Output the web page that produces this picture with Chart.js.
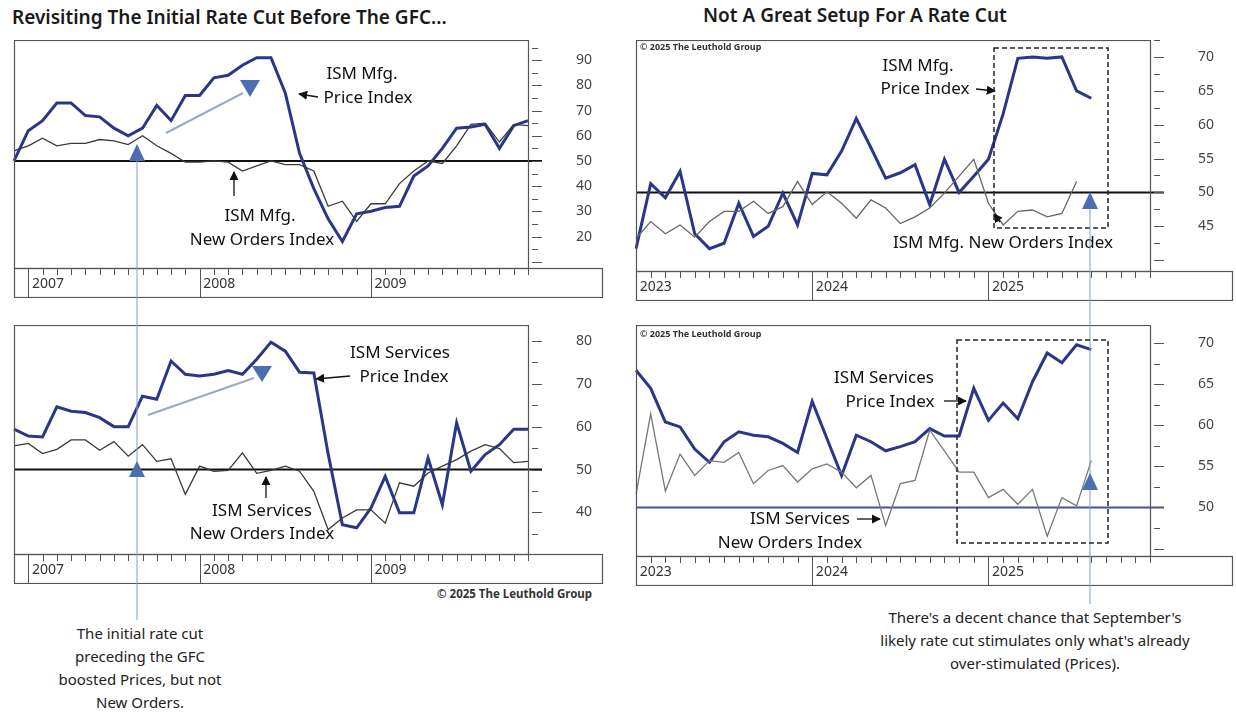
<!DOCTYPE html>
<html>
<head>
<meta charset="utf-8">
<script src="https://cdn.jsdelivr.net/npm/chart.js@4/dist/chart.umd.min.js"></script>
<style>
  body { margin: 0; background: #fff; width: 1236px; height: 712px; position: relative; overflow: hidden; font-family: "Noto Sans", "Liberation Sans", sans-serif; }
  canvas { position: absolute; }
  .title { position: absolute; font-size: 19px; font-weight: 600; color: #1a1a1a; white-space: nowrap; }
  .note { position: absolute; font-size: 15px; color: #222; text-align: center; line-height: 23px; }
  svg { position: absolute; left: 0; top: 0; pointer-events: none; }
</style>
</head>
<body>
<div class="title" style="left:12px;top:4px;">Revisiting The Initial Rate Cut Before The GFC...</div>
<div class="title" style="left:703px;top:2px;">Not A Great Setup For A Rate Cut</div>

<canvas id="mfgGfc" width="598" height="258" style="left:6px;top:40px;"></canvas>
<canvas id="svcGfc" width="598" height="259" style="left:6px;top:325px;"></canvas>
<canvas id="mfgNow" width="606" height="261" style="left:628px;top:40px;"></canvas>
<canvas id="svcNow" width="606" height="261" style="left:628px;top:325px;"></canvas>

<div class="note" style="left:40px;top:622px;width:200px;">The initial rate cut<br>preceding the GFC<br>boosted Prices, but not<br>New Orders.</div>
<div class="note" style="left:830px;top:606px;width:410px;">There's a decent chance that September's<br>likely rate cut stimulates only what's already<br>over-stimulated (Prices).</div>
<div style="position:absolute;left:437px;top:586px;font-size:11.5px;font-weight:700;color:#333;">© 2025 The Leuthold Group</div>
<div style="position:absolute;left:640px;top:40px;font-size:9px;font-weight:700;color:#333;">© 2025 The Leuthold Group</div>
<div style="position:absolute;left:640px;top:327px;font-size:9px;font-weight:700;color:#333;">© 2025 The Leuthold Group</div>

<svg width="1236" height="712">
  <defs>
    <marker id="ah" viewBox="0 0 10 10" refX="9" refY="5" markerWidth="7" markerHeight="7" orient="auto-start-reverse">
      <path d="M0,0 L10,5 L0,10 z" fill="#111"/>
    </marker>
  </defs>
  <g font-family="Noto Sans, Liberation Sans, sans-serif" font-size="17" fill="#111" text-anchor="middle">
    <!-- top left -->
    <text x="362" y="79">ISM Mfg.</text>
    <text x="368" y="103">Price Index</text>
    <line x1="318" y1="97" x2="299" y2="94" stroke="#111" stroke-width="1.3" marker-end="url(#ah)"/>
    <text x="260" y="221">ISM Mfg.</text>
    <text x="262" y="245">New Orders Index</text>
    <line x1="234" y1="196" x2="234" y2="172" stroke="#111" stroke-width="1.3" marker-end="url(#ah)"/>
    <line x1="166" y1="133" x2="243" y2="93" stroke="#9aa8cc" stroke-width="2"/>
    <path d="M240,80 L260,80 L250,97 z" fill="#4a6eb0"/>
    <path d="M129,161 L145,161 L137,144 z" fill="#4a6eb0"/>
    <line x1="137" y1="161" x2="137" y2="620" stroke="#7f9fd6" stroke-width="1"/>
    <!-- bottom left -->
    <text x="400" y="358">ISM Services</text>
    <text x="404" y="382">Price Index</text>
    <line x1="350" y1="376" x2="316" y2="379" stroke="#111" stroke-width="1.3" marker-end="url(#ah)"/>
    <text x="262" y="516">ISM Services</text>
    <text x="262" y="539">New Orders Index</text>
    <line x1="266" y1="498" x2="266" y2="477" stroke="#111" stroke-width="1.3" marker-end="url(#ah)"/>
    <line x1="148" y1="415" x2="254" y2="378" stroke="#9aa8cc" stroke-width="2"/>
    <path d="M252,366 L272,366 L262,382 z" fill="#4a6eb0"/>
    <path d="M129,477 L145,477 L137,461 z" fill="#4a6eb0"/>
    <!-- top right -->
    <text x="918" y="71">ISM Mfg.</text>
    <text x="925" y="94">Price Index</text>
    <line x1="976" y1="89" x2="995" y2="91" stroke="#111" stroke-width="1.3" marker-end="url(#ah)"/>
    <text x="1003" y="248">ISM Mfg. New Orders Index</text>
    <line x1="1000" y1="222" x2="994" y2="214" stroke="#111" stroke-width="1.3" marker-end="url(#ah)"/>
    <rect x="994" y="48" width="114" height="180" fill="none" stroke="#222" stroke-width="1.5" stroke-dasharray="5,3"/>
    <path d="M1082,209 L1098,209 L1090,192 z" fill="#4a6eb0"/>
    <line x1="1090" y1="209" x2="1090" y2="604" stroke="#7f9fd6" stroke-width="1"/>
    <!-- bottom right -->
    <text x="884" y="383">ISM Services</text>
    <text x="890" y="407">Price Index</text>
    <line x1="944" y1="401" x2="966" y2="401" stroke="#111" stroke-width="1.3" marker-end="url(#ah)"/>
    <text x="800" y="524">ISM Services</text>
    <line x1="857" y1="519" x2="880" y2="519" stroke="#111" stroke-width="1.3" marker-end="url(#ah)"/>
    <text x="790" y="548">New Orders Index</text>
    <rect x="957" y="340" width="151" height="203" fill="none" stroke="#222" stroke-width="1.5" stroke-dasharray="5,3"/>
    <path d="M1082,490 L1098,490 L1090,473 z" fill="#4a6eb0"/>
  </g>
</svg>

<script>
// monthly readings, Dec 2006 .. Dec 2009
const mfgPriceGfc = [50, 62, 66, 73, 73, 68, 67.5, 63, 60, 63, 72, 66, 76, 76, 83, 84, 88, 91, 91, 77, 53, 39, 27, 18, 29, 30, 31.5, 32, 44, 48, 55, 63, 63.5, 64.5, 55, 64, 66];
const mfgOrdersGfc = [54, 56, 59, 56, 57, 57, 58.5, 58, 56.5, 60, 56, 53, 49.5, 49.5, 50, 49.5, 46, 48, 50, 48.5, 48.5, 46, 32, 34, 26, 33, 33, 41, 46, 50, 49, 56, 64.5, 65, 57.5, 64.5, 64];
const svcPriceGfc = [59.4, 57.8, 57.6, 64.6, 63.6, 63.3, 62.1, 60, 60, 67.1, 66.4, 75.3, 72.2, 71.8, 72.2, 73.1, 72.2, 75.7, 79.7, 77.6, 72.7, 72.5, 53.7, 37.1, 36.4, 41, 48.4, 39.9, 39.9, 52.7, 41.8, 60.9, 49.6, 53.5, 55.8, 59.4, 59.4];
const svcOrdersGfc = [55.5, 56.1, 53.7, 54.7, 56.9, 56.9, 54.5, 56.5, 53.1, 55.8, 51.9, 52.5, 44.2, 50.8, 49.6, 49.8, 53.9, 49.1, 49.8, 50.8, 49.6, 44.9, 36, 38.7, 40.6, 40.6, 37.5, 46.9, 46.1, 49.2, 50.8, 52.3, 54.3, 55.8, 54.9, 51.6, 51.9];

// monthly readings, Jan 2023 .. Aug 2025
const mfgPriceNow = [41.7, 51.3, 49.2, 53.1, 43.9, 41.7, 42.5, 48.4, 43.5, 45, 49.9, 45.2, 52.8, 52.6, 56.1, 60.9, 56.6, 52.1, 52.9, 54.1, 48.2, 54.9, 50, 52.4, 54.9, 61.6, 69.8, 70, 69.8, 70, 65, 63.9];
const mfgOrdersNow = [43.2, 45.7, 43.9, 45.2, 43.4, 45.7, 47.2, 47.2, 48.7, 46.9, 47.9, 51.6, 48.2, 50.1, 48.4, 46.2, 48.9, 47.7, 45.4, 46.4, 47.7, 49.9, 52.4, 54.9, 48.4, 45.2, 47.2, 47.4, 46.4, 46.9, 51.6, null];
const svcPriceNow = [66.7, 64.5, 60.4, 59.8, 57.1, 55.5, 58, 59.2, 58.8, 58.6, 57.8, 56.7, 62.9, 58.4, 53.9, 58.8, 58, 56.9, 57.4, 58, 59.6, 58.7, 58.7, 64.5, 60.6, 62.7, 60.8, 65.3, 68.8, 67.6, 69.8, 69.2];
const svcOrdersNow = [51.6, 61.4, 52, 56.5, 53.9, 55.7, 55.5, 56.7, 52.9, 54.5, 55.1, 53.1, 54.7, 55.3, 54.3, 52.4, 53.9, 47.8, 52.9, 53.3, 59.4, 56.9, 54.3, 54.3, 51.2, 52.2, 50.4, 52.2, 46.5, 51.2, 50.2, 55.7];

function monthLabels(startYear, leadingDec) {
  const out = leadingDec ? [startYear - 1 + '-12'] : [];
  for (let y = startYear; y < startYear + 3; y++)
    for (let m = 1; m <= 12; m++) out.push(y + '-' + String(m).padStart(2, '0'));
  return out;
}
const gfcMonths = monthLabels(2007, true);
const nowMonths = monthLabels(2023, false);

const frame = {
  id: 'frame',
  beforeDatasetsDraw(chart, args, opts) {
    const { ctx, chartArea: a, scales: { y } } = chart;
    const yy = y.getPixelForValue(50);
    ctx.save();
    ctx.strokeStyle = opts.refColor;
    ctx.lineWidth = 2;
    ctx.beginPath(); ctx.moveTo(a.left, yy); ctx.lineTo(a.right + 14, yy); ctx.stroke();
    ctx.restore();
  },
  afterDraw(chart, args, opts) {
    const { ctx, chartArea: a, scales: { x, y } } = chart;
    ctx.save();
    ctx.strokeStyle = '#555';
    ctx.lineWidth = 1.2;
    ctx.strokeRect(a.left + 0.5, a.top + 0.5, a.right - a.left, a.bottom - a.top);
    ctx.strokeRect(a.left + 0.5, a.bottom + 0.5, chart.width - a.left - 2, 29);
    // month ticks and year dividers
    ctx.lineWidth = 1;
    x.getLabels().forEach((lab, i) => {
      const px = Math.round(x.getPixelForValue(i)) + 0.5;
      ctx.beginPath();
      if (lab.endsWith('-01')) { ctx.moveTo(px, a.bottom); ctx.lineTo(px, a.bottom + 29); }
      else { ctx.moveTo(px, a.bottom); ctx.lineTo(px, a.bottom + 7); }
      ctx.stroke();
    });
    // right-hand tick marks and labels
    ctx.fillStyle = '#444';
    ctx.font = '14px "Noto Sans"';
    ctx.textBaseline = 'middle';
    ctx.textAlign = 'left';
    for (let v = Math.ceil(y.min / opts.minor) * opts.minor; v <= y.max; v += opts.minor) {
      const py = Math.round(y.getPixelForValue(v)) + 0.5;
      const major = Math.abs(v / opts.major - Math.round(v / opts.major)) < 1e-6;
      ctx.beginPath(); ctx.moveTo(a.right + 4, py); ctx.lineTo(a.right + (major ? 14 : 10), py); ctx.stroke();
      if (major && v >= opts.labelMin) ctx.fillText(String(v), a.right + 48, py);
    }
    ctx.restore();
  }
};

function makeChart(id, labels, price, orders, yMin, yMax, step, labelMin, ordersColor, refColor, axisWidth) {
  const canvas = document.getElementById(id);
  return new Chart(canvas, {
    type: 'line',
    data: {
      labels: labels,
      datasets: [
        { data: orders, borderColor: ordersColor, borderWidth: 1.3, pointRadius: 0, tension: 0 },
        { data: price, borderColor: '#2a3789', borderWidth: 3, pointRadius: 0, tension: 0 }
      ]
    },
    options: {
      responsive: false,
      maintainAspectRatio: false,
      animation: false,
      layout: { padding: 0 },
      plugins: {
        legend: { display: false },
        tooltip: { enabled: false },
        frame: { refColor: refColor, minor: step / 2, major: step, labelMin: labelMin }
      },
      scales: {
        x: {
          type: 'category',
          offset: false,
          grid: { display: false, drawTicks: false },
          border: { display: false },
          afterFit: s => { s.height = 30; },
          ticks: {
            autoSkip: false, maxRotation: 0, align: 'start', padding: 8,
            color: '#333', font: { size: 14, family: 'Noto Sans' },
            callback: (v, i) => labels[i].endsWith('-01') ? ' ' + labels[i].slice(0, 4) : ''
          }
        },
        y: {
          position: 'right',
          min: yMin, max: yMax,
          grid: { display: false },
          border: { display: false },
          afterFit: s => { s.width = axisWidth; },
          ticks: { display: false }
        }
      }
    },
    plugins: [frame]
  });
}

makeChart('mfgGfc', gfcMonths, mfgPriceGfc, mfgOrdersGfc, 7.5, 98, 10, 20, '#3a3a3a', '#111', 76);
makeChart('svcGfc', gfcMonths, svcPriceGfc, svcOrdersGfc, 30.3, 83.7, 10, 40, '#3a3a3a', '#111', 76);
makeChart('mfgNow', nowMonths, mfgPriceNow, mfgOrdersNow, 38.4, 72.5, 5, 45, '#666', '#111', 84);
makeChart('svcNow', nowMonths, svcPriceNow, svcOrdersNow, 44.1, 72.2, 5, 50, '#777', '#4a4f9a', 84);
</script>
</body>
</html>
